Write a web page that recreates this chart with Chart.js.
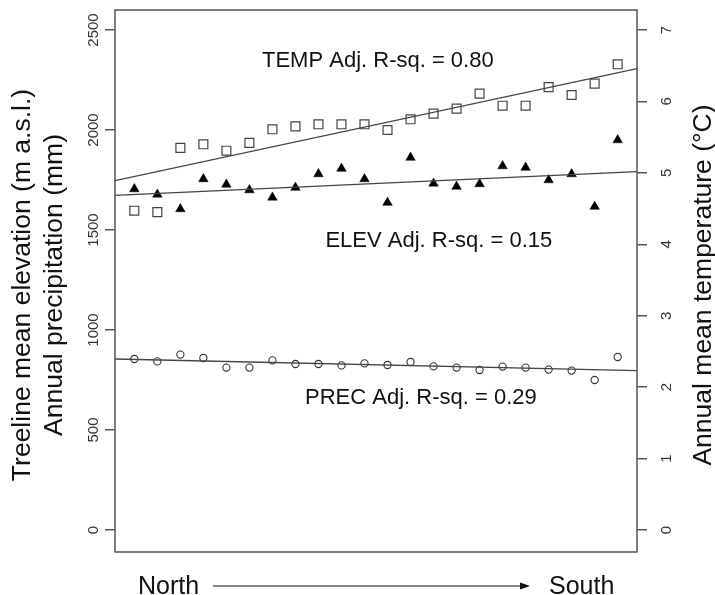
<!DOCTYPE html>
<html>
<head>
<meta charset="utf-8">
<script src="https://cdn.jsdelivr.net/npm/chart.js@4/dist/chart.umd.min.js"></script>
<style>
  html, body { margin: 0; padding: 0; background: #fff; }
  #c { display: block; }
</style>
</head>
<body>
<canvas id="c" width="715" height="595"></canvas>
<script>
// sites ordered from north to south
const sites = [1, 2, 3, 4, 5, 6, 7, 8, 9, 10, 11, 12, 13, 14, 15, 16, 17, 18, 19, 20, 21, 22];
const tempC = [4.47, 4.45, 5.35, 5.40, 5.31, 5.42, 5.61, 5.65, 5.68, 5.68, 5.68, 5.60,
               5.75, 5.83, 5.90, 6.11, 5.94, 5.94, 6.20, 6.09, 6.25, 6.52];
const elevM = [1705, 1678, 1605, 1755, 1728, 1700, 1663, 1712, 1780, 1807, 1755, 1637,
               1862, 1733, 1717, 1730, 1820, 1812, 1750, 1780, 1617, 1950];
const precMM = [855, 843, 877, 860, 812, 812, 848, 830, 830, 823, 833, 825,
                840, 818, 812, 800, 817, 812, 802, 797, 750, 865];
// fitted lines, values at the left and right edge of the plot
const tempFit = [4.89, 6.46];
const elevFit = [1673, 1792];
const precFit = [855, 797];
const fitLabels = ["TEMP Adj. R-sq. = 0.80", "ELEV Adj. R-sq. = 0.15", "PREC Adj. R-sq. = 0.29"];
const leftTicks = [0, 500, 1000, 1500, 2000, 2500];
const rightTicks = [0, 1, 2, 3, 4, 5, 6, 7];

const X_MIN = 0.16, X_MAX = 22.84;
const Y_MIN = -110, Y_MAX = 2600;
const T_MIN = Y_MIN * 7 / 2500, T_MAX = Y_MAX * 7 / 2500;

const FONT = '"Liberation Sans", Arial, sans-serif';

function pts(vals) {
  return sites.map((s, i) => ({ x: s, y: vals[i] }));
}
function fit(vals) {
  return [{ x: X_MIN, y: vals[0] }, { x: X_MAX, y: vals[1] }];
}

const decor = {
  id: 'decor',
  afterDraw(chart) {
    const ctx = chart.ctx;
    const a = chart.chartArea;
    const yl = chart.scales.y, yr = chart.scales.y2, xs = chart.scales.x;
    ctx.save();
    // plot box
    ctx.strokeStyle = '#555';
    ctx.lineWidth = 1.5;
    ctx.strokeRect(a.left, a.top, a.right - a.left, a.bottom - a.top);

    // rotated tick labels
    ctx.fillStyle = '#333';
    ctx.font = '15px ' + FONT;
    ctx.textAlign = 'center';
    ctx.textBaseline = 'middle';
    leftTicks.forEach(v => {
      ctx.save();
      ctx.translate(a.left - 21, yl.getPixelForValue(v));
      ctx.rotate(-Math.PI / 2);
      ctx.fillText(String(v), 0, 0);
      ctx.restore();
    });
    rightTicks.forEach(v => {
      ctx.save();
      ctx.translate(a.right + 30, yr.getPixelForValue(v));
      ctx.rotate(-Math.PI / 2);
      ctx.fillText(String(v), 0, 0);
      ctx.restore();
    });

    // axis titles
    ctx.fillStyle = '#111';
    ctx.font = '26.5px ' + FONT;
    const midY = 285;
    ctx.save();
    ctx.translate(23, midY);
    ctx.rotate(-Math.PI / 2);
    ctx.fillText('Treeline mean elevation (m a.s.l.)', 0, 0);
    ctx.fillText('Annual precipitation (mm)', 0, 32);
    ctx.restore();
    ctx.save();
    ctx.translate(704, midY);
    ctx.rotate(-Math.PI / 2);
    ctx.fillText('Annual mean temperature (°C)', 0, 0);
    ctx.restore();

    // fit annotations
    ctx.font = '22px ' + FONT;
    ctx.fillText(fitLabels[0], xs.getPixelForValue(11.58), yl.getPixelForValue(2345));
    ctx.fillText(fitLabels[1], xs.getPixelForValue(14.23), yl.getPixelForValue(1445));
    ctx.fillText(fitLabels[2], xs.getPixelForValue(13.45), yl.getPixelForValue(660));

    // North -> South
    ctx.font = '25px ' + FONT;
    ctx.textAlign = 'left';
    ctx.fillText('North', 138, 587);
    ctx.fillText('South', 549, 587);
    ctx.strokeStyle = '#111';
    ctx.lineWidth = 1;
    ctx.beginPath();
    ctx.moveTo(213, 586);
    ctx.lineTo(526, 586);
    ctx.stroke();
    ctx.beginPath();
    ctx.moveTo(530, 586);
    ctx.lineTo(520, 582.5);
    ctx.lineTo(520, 589.5);
    ctx.closePath();
    ctx.fillStyle = '#111';
    ctx.fill();
    ctx.restore();
  }
};

const lineStyle = { showLine: true, borderColor: '#444', borderWidth: 1.3, pointRadius: 0, fill: false };

new Chart(document.getElementById('c'), {
  type: 'scatter',
  data: {
    datasets: [
      Object.assign({ label: 'TEMP fit', data: fit(tempFit), yAxisID: 'y2' }, lineStyle),
      Object.assign({ label: 'ELEV fit', data: fit(elevFit), yAxisID: 'y' }, lineStyle),
      Object.assign({ label: 'PREC fit', data: fit(precFit), yAxisID: 'y' }, lineStyle),
      {
        label: 'TEMP', data: pts(tempC), yAxisID: 'y2',
        pointStyle: 'rect', pointRadius: 6.3, borderColor: '#444', borderWidth: 1.2,
        backgroundColor: 'rgba(255,255,255,0)'
      },
      {
        label: 'ELEV', data: pts(elevM), yAxisID: 'y',
        pointStyle: 'triangle', pointRadius: 5.5, borderColor: '#000', borderWidth: 0.5,
        backgroundColor: '#000'
      },
      {
        label: 'PREC', data: pts(precMM), yAxisID: 'y',
        pointStyle: 'circle', pointRadius: 3.6, borderColor: '#333', borderWidth: 1.1,
        backgroundColor: 'rgba(255,255,255,0)'
      }
    ]
  },
  options: {
    responsive: false,
    animation: false,
    devicePixelRatio: 1,
    layout: { padding: { top: 10, bottom: 43, left: 0, right: 0 } },
    plugins: { legend: { display: false }, tooltip: { enabled: false } },
    scales: {
      x: { type: 'linear', min: X_MIN, max: X_MAX, display: false },
      y: {
        position: 'left', min: Y_MIN, max: Y_MAX,
        afterBuildTicks: s => { s.ticks = leftTicks.map(v => ({ value: v })); },
        ticks: { display: false },
        grid: { drawOnChartArea: false, tickLength: 10, color: '#555', lineWidth: 1.5 },
        border: { display: false },
        afterFit: s => { s.width = 115; }
      },
      y2: {
        position: 'right', min: T_MIN, max: T_MAX,
        afterBuildTicks: s => { s.ticks = rightTicks.map(v => ({ value: v })); },
        ticks: { display: false },
        grid: { drawOnChartArea: false, tickLength: 10, color: '#555', lineWidth: 1.5 },
        border: { display: false },
        afterFit: s => { s.width = 78; }
      }
    }
  },
  plugins: [decor]
});
</script>
</body>
</html>
